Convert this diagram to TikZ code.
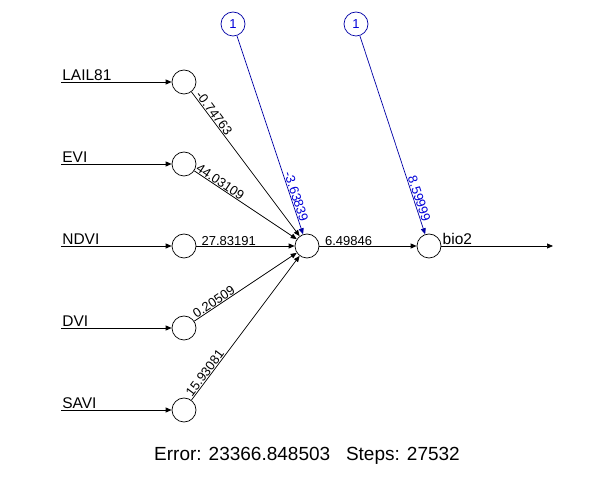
\documentclass[tikz,border=0pt]{standalone}
\usepackage{fontspec}
\setmainfont{Liberation Sans}
\usetikzlibrary{arrows.meta,positioning}

\begin{document}
\begin{tikzpicture}[>={Triangle[length=6pt,width=5pt]},x=1pt,y=-1pt,line width=0.7pt,
  neuron/.style={circle,draw,minimum size=24pt,inner sep=0pt},
  bias/.style={neuron,draw=blue!65!black,text=blue!85!black,font=\fontsize{13}{14}\selectfont},
  wlabel/.style={font=\fontsize{13}{14}\selectfont,sloped,above,inner sep=0.5pt},
  blabel/.style={wlabel,text=blue!85!black},
  inlabel/.style={font=\fontsize{15.5}{16}\selectfont,anchor=south west,inner sep=1pt}]
  \useasboundingbox (0,0) rectangle (614,494);

  % neurons
  \node[neuron] (lail) at (184,82) {};
  \node[neuron] (evi)  at (184,164) {};
  \node[neuron] (ndvi) at (184,246) {};
  \node[neuron] (dvi)  at (184,328) {};
  \node[neuron] (savi) at (184,410) {};
  \node[neuron] (hid)  at (307,246) {};
  \node[neuron] (out)  at (429,246) {};
  \node[bias] (b1) at (233,24) {1};
  \node[bias] (b2) at (356,24) {1};

  % inputs
  \coordinate (lailin) at (61,82);
  \coordinate (eviin)  at (61,164);
  \coordinate (ndviin) at (61,246);
  \coordinate (dviin)  at (61,328);
  \coordinate (saviin) at (61,410);
  \coordinate (outend) at (553,246);
  \node[inlabel] (lailtxt) at (lailin) {LAIL81};
  \node[inlabel] (evitxt)  at (eviin) {EVI};
  \node[inlabel] (ndvitxt) at (ndviin) {NDVI};
  \node[inlabel] (dvitxt)  at (dviin) {DVI};
  \node[inlabel] (savitxt) at (saviin) {SAVI};
  \draw[->] (lailin) -- (lail);
  \draw[->] (eviin) -- (evi);
  \draw[->] (ndviin) -- (ndvi);
  \draw[->] (dviin) -- (dvi);
  \draw[->] (saviin) -- (savi);

  % weights
  \draw[->] (lail) -- node[wlabel,pos=0.17] {-0.74763} (hid);
  \draw[->] (evi) -- node[wlabel,pos=0.225] {44.03109} (hid);
  \draw[->] (ndvi) -- node[wlabel,pos=0.33] {27.83191} (hid);
  \draw[->] (dvi) -- node[wlabel,pos=0.22] {0.20509} (hid);
  \draw[->] (savi) -- node[wlabel,pos=0.165] {15.93081} (hid);
  \draw[->] (hid) -- node[wlabel,pos=0.3] {6.49846} (out);
  \draw[->,draw=blue!65!black] (b1) -- node[blabel,pos=0.82] {-3.63839} (hid);
  \draw[->,draw=blue!65!black] (b2) -- node[blabel,pos=0.83] {8.59999} (out);

  % output
  \draw[->] (out) -- (outend);
  \node[inlabel] (biotxt) at (out.east) {bio2};

  \node[font=\fontsize{19}{20}\selectfont] (err) at (307,456) {Error: 23366.848503 \ \ Steps: 27532};
\end{tikzpicture}
\end{document}
